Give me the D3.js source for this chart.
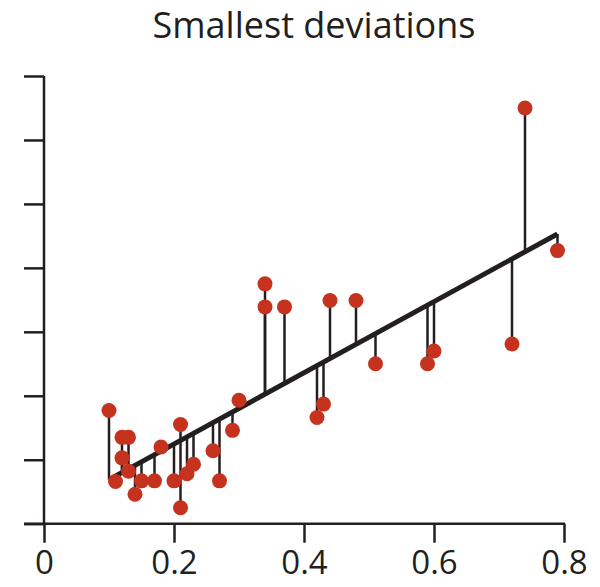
<!DOCTYPE html>
<html>
<head>
<meta charset="utf-8">
<script src="https://cdn.jsdelivr.net/npm/d3@7"></script>
<style>
  body { margin: 0; background: #fff; }
  svg { font-family: "Open Sans", sans-serif; }
</style>
</head>
<body>
<svg id="chart" width="600" height="587"></svg>
<script>
// point data
var xs = [0.10, 0.11, 0.12, 0.13, 0.12, 0.13, 0.14, 0.15, 0.17, 0.18, 0.20,
          0.21, 0.21, 0.22, 0.23, 0.26, 0.27, 0.29, 0.30, 0.34, 0.34, 0.37,
          0.44, 0.48, 0.42, 0.43, 0.51, 0.59, 0.60, 0.72, 0.74, 0.79];
var ys = [1.77, 0.66, 1.35, 1.35, 1.03, 0.82, 0.46, 0.67, 0.67, 1.20, 0.67,
          1.55, 0.25, 0.78, 0.93, 1.14, 0.67, 1.46, 1.93, 3.75, 3.39, 3.39,
          3.49, 3.49, 1.66, 1.87, 2.50, 2.50, 2.70, 2.81, 6.50, 4.27];

// fitted line end points
var fitX = [0.10, 0.79];
var fitY = [0.69, 4.53];

var xTicks = [0, 0.2, 0.4, 0.6, 0.8];
var yTicks = [0, 1, 2, 3, 4, 5, 6, 7];

var svg = d3.select("#chart");
var ink = "#231f20";
var red = "#c5331e";

var x = d3.scaleLinear().domain([0, 0.8]).range([44, 564]);
var y = d3.scaleLinear().domain([0, 7]).range([523.7, 76]);

var slope = (fitY[1] - fitY[0]) / (fitX[1] - fitX[0]);
function fit(v) { return fitY[0] + slope * (v - fitX[0]); }

var pts = xs.map(function(d, i) { return { x: d, y: ys[i] }; });

// title
svg.append("text")
    .attr("x", 314)
    .attr("y", 38)
    .attr("text-anchor", "middle")
    .style("font-size", "36px")
    .style("fill", ink)
    .text("Smallest deviations");

// x axis
var xAxis = svg.append("g")
    .attr("transform", "translate(0," + y(0) + ")")
    .call(d3.axisBottom(x).tickValues(xTicks).tickSize(19).tickPadding(8)
        .tickFormat(function(d) { return d === 0 ? "0" : d3.format(".1f")(d); }));
xAxis.select(".domain").remove();
xAxis.selectAll(".tick line").attr("stroke", ink).attr("stroke-width", 2.5);
xAxis.selectAll(".tick text")
    .style("font-size", "33px")
    .style("font-family", "Open Sans")
    .attr("fill", ink);
xAxis.append("line")
    .attr("x1", x(0) - 20).attr("x2", x(0.8) + 1)
    .attr("stroke", ink).attr("stroke-width", 2.5);

// y axis (no labels)
var yAxis = svg.append("g")
    .attr("transform", "translate(" + x(0) + ",0)")
    .call(d3.axisLeft(y).tickValues(yTicks).tickSize(20).tickFormat(""));
yAxis.select(".domain").remove();
yAxis.selectAll(".tick line").attr("stroke", ink).attr("stroke-width", 2.5);
yAxis.append("line")
    .attr("y1", y(7)).attr("y2", y(0))
    .attr("stroke", ink).attr("stroke-width", 2.5);

// residuals
svg.append("g").selectAll("line")
    .data(pts)
    .enter().append("line")
    .attr("x1", function(d) { return x(d.x); })
    .attr("x2", function(d) { return x(d.x); })
    .attr("y1", function(d) { return y(d.y); })
    .attr("y2", function(d) { return y(fit(d.x)); })
    .attr("stroke", ink)
    .attr("stroke-width", 2.5);

// fitted line
svg.append("line")
    .attr("x1", x(fitX[0])).attr("y1", y(fitY[0]))
    .attr("x2", x(fitX[1])).attr("y2", y(fitY[1]))
    .attr("stroke", ink)
    .attr("stroke-width", 5);

// points
svg.append("g").selectAll("circle")
    .data(pts)
    .enter().append("circle")
    .attr("cx", function(d) { return x(d.x); })
    .attr("cy", function(d) { return y(d.y); })
    .attr("r", 7.5)
    .attr("fill", red);
</script>
</body>
</html>
